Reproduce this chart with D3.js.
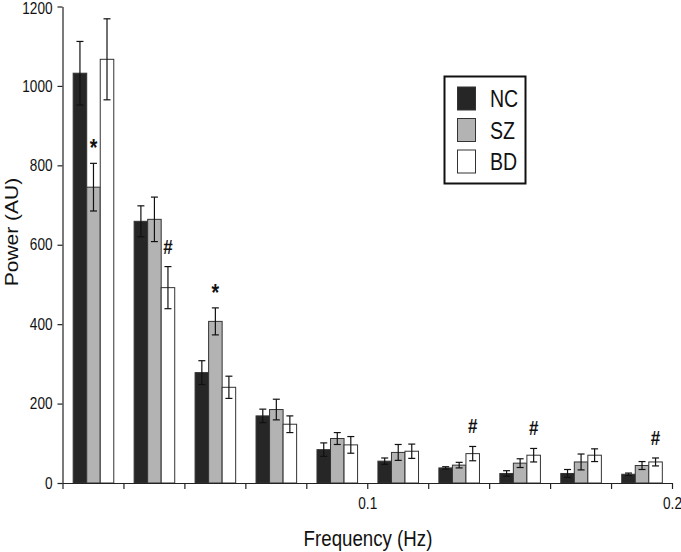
<!DOCTYPE html>
<html>
<head>
<meta charset="utf-8">
<script src="https://cdn.jsdelivr.net/npm/d3@7/dist/d3.min.js"></script>
<style>
  body { margin: 0; background: #fff; }
  svg { display: block; font-family: "Liberation Sans", Arial, sans-serif; }
</style>
</head>
<body>
<div id="chart"></div>
<script>
// frequency bins (centres, Hz) and axis ticks
var binCenters = [0.01, 0.03, 0.05, 0.07, 0.09, 0.11, 0.13, 0.15, 0.17, 0.19];
var xTickValues = [0, 0.02, 0.04, 0.06, 0.08, 0.1, 0.12, 0.14, 0.16, 0.18, 0.2];
var xTickLabels = ["0.1", "0.2"];
var yTickValues = [0, 200, 400, 600, 800, 1000, 1200];

var groups = ["NC", "SZ", "BD"];
var groupColors = ["#262626", "#b3b3b3", "#ffffff"];

// mean power and error per group
var ncMean = [1032, 659, 278, 169, 84, 55, 38, 24, 24, 22];
var ncErr  = [80, 39, 30, 17, 17, 8, 3, 7, 10, 3];
var szMean = [745, 664, 407, 185, 112, 77, 45, 50, 53, 44];
var szErr  = [60, 56, 34, 26, 15, 20, 7, 11, 20, 10];
var bdMean = [1067, 492, 241, 148, 96, 80, 74, 70, 70, 53];
var bdErr  = [102, 53, 28, 21, 21, 18, 18, 17, 16, 10];

// significance markers
var sigBin    = [0, 1, 2, 6, 7, 9];
var sigGroup  = ["SZ", "BD", "SZ", "BD", "BD", "BD"];
var sigSymbol = ["*", "#", "*", "#", "#", "#"];

var svgWidth = 681;
var svgHeight = 552;
var SQ = 0.85; // the original text looks squeezed horizontally

var svg = d3.select("#chart")
  .append("svg")
  .attr("width", svgWidth)
  .attr("height", svgHeight);

var xScale = d3.scaleLinear()
  .domain([0, 0.2])
  .range([62.5, 672]);

var yScale = d3.scaleLinear()
  .domain([0, 1200])
  .range([483, 6.5]);

var binWidth = xScale(0.02) - xScale(0);
var barWidth = binWidth * 0.222;

var means = [ncMean, szMean, bdMean];
var errs = [ncErr, szErr, bdErr];

var bars = [];
binCenters.forEach(function(c, i) {
  groups.forEach(function(g, k) {
    bars.push({
      bin: i, group: g, k: k, center: c,
      mean: means[k][i], err: errs[k][i]
    });
  });
});

function barX(d) {
  return xScale(d.center) + 0.5 + (d.k - 1.5) * barWidth;
}

// bars
svg.append("g")
  .selectAll("rect")
  .data(bars)
  .enter()
  .append("rect")
  .attr("x", barX)
  .attr("y", d => yScale(d.mean))
  .attr("width", barWidth)
  .attr("height", d => yScale(0) - yScale(d.mean))
  .attr("fill", d => groupColors[d.k])
  .attr("stroke", "#333")
  .attr("stroke-width", 1);

// error bars
var errG = svg.append("g")
  .attr("stroke", "#111")
  .attr("stroke-width", 1.2);

bars.forEach(function(d) {
  var cx = barX(d) + barWidth / 2;
  var yTop = yScale(d.mean + d.err);
  var yBot = yScale(d.mean - d.err);
  errG.append("line").attr("x1", cx).attr("x2", cx).attr("y1", yTop).attr("y2", yBot);
  errG.append("line").attr("x1", cx - 3.5).attr("x2", cx + 3.5).attr("y1", yTop).attr("y2", yTop);
  errG.append("line").attr("x1", cx - 3.5).attr("x2", cx + 3.5).attr("y1", yBot).attr("y2", yBot);
});

// significance symbols
sigBin.forEach(function(b, i) {
  var k = groups.indexOf(sigGroup[i]);
  var d = bars[b * 3 + k];
  var cx = barX(d) + barWidth / 2;
  var yTop = yScale(d.mean + d.err);
  var isStar = sigSymbol[i] === "*";
  svg.append("text")
    .attr("transform", `translate(${cx}, ${yTop - (isStar ? 7 : 13)}) scale(${SQ},1)`)
    .attr("text-anchor", "middle")
    .style("font-size", isStar ? "23px" : "20px")
    .style("font-weight", "bold")
    .attr("fill", "#111")
    .text(sigSymbol[i]);
});

// axes
var leftAxis = d3.axisLeft(yScale)
  .tickValues(yTickValues)
  .tickFormat(d3.format("d"))
  .tickSize(5)
  .tickSizeOuter(0)
  .tickPadding(5);

var yAxisG = svg.append("g")
  .attr("transform", `translate(${xScale(0)}, 0)`)
  .call(leftAxis);

yAxisG.selectAll("text")
  .attr("x", -10 / SQ)
  .attr("dy", d => d === 1200 ? "0.45em" : "0.32em")
  .attr("transform", `scale(${SQ},1)`)
  .style("font-size", "16px")
  .attr("fill", "#111");

var bottomAxis = d3.axisBottom(xScale)
  .tickValues(xTickValues)
  .tickSize(6)
  .tickSizeOuter(0)
  .tickPadding(9)
  .tickFormat(function(v) {
    var lab = xTickLabels.find(l => Math.abs(+l - v) < 1e-9);
    return lab || "";
  });

var xAxisG = svg.append("g")
  .attr("transform", `translate(0, ${yScale(0)})`)
  .call(bottomAxis);

xAxisG.selectAll("text")
  .attr("transform", `scale(${SQ},1)`)
  .style("font-size", "16px")
  .attr("fill", "#111");

svg.selectAll(".domain, .tick line")
  .attr("stroke", "#222")
  .attr("stroke-width", 1.2);

// axis titles
svg.append("text")
  .attr("transform", `translate(18, 232) scale(${SQ},1) rotate(-90)`)
  .attr("text-anchor", "middle")
  .style("font-size", "21px")
  .attr("fill", "#111")
  .text("Power (AU)");

svg.append("text")
  .attr("transform", `translate(368, 546) scale(${SQ},1)`)
  .attr("text-anchor", "middle")
  .style("font-size", "22px")
  .attr("fill", "#111")
  .text("Frequency (Hz)");

// legend
var legend = svg.append("g");
legend.append("rect")
  .attr("x", 444.5).attr("y", 76.5)
  .attr("width", 81).attr("height", 107)
  .attr("fill", "#fff")
  .attr("stroke", "#111")
  .attr("stroke-width", 2);

groups.forEach(function(g, k) {
  var yy = 87 + k * 31.5;
  legend.append("rect")
    .attr("x", 457.5).attr("y", yy)
    .attr("width", 18).attr("height", 23)
    .attr("fill", groupColors[k])
    .attr("stroke", "#333")
    .attr("stroke-width", 1);
  legend.append("text")
    .attr("transform", `translate(490, ${yy + 20}) scale(${SQ},1)`)
    .style("font-size", "23px")
    .attr("fill", "#111")
    .text(g);
});
</script>
</body>
</html>
